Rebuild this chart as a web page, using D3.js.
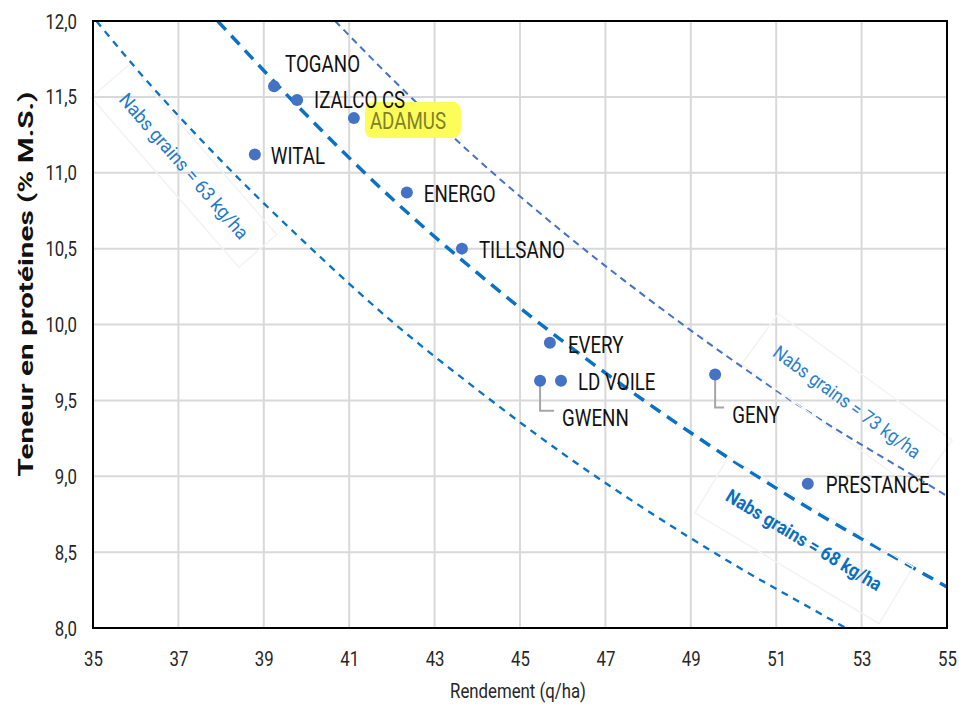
<!DOCTYPE html>
<html><head><meta charset="utf-8">
<script src="https://cdn.jsdelivr.net/npm/d3@7"></script>
<style>
body{margin:0;background:#fff;}
svg{display:block;}
text{font-family:Roboto,"Liberation Sans",sans-serif;}
</style></head>
<body>
<script>
// ---- data ----
const varieties = ["TOGANO","IZALCO CS","ADAMUS","WITAL","ENERGO","TILLSANO","EVERY","GWENN","LD VOILE","GENY","PRESTANCE"];
const rendement = [39.24,39.78,41.11,38.79,42.35,43.64,45.70,45.47,45.96,49.57,51.74];
const proteines = [11.57,11.48,11.36,11.12,10.87,10.50,9.88,9.63,9.63,9.67,8.95];

const curve63x = [35.08,36,38,40,42,44,46,48,50,52,52.63];
const curve63y = [12.0,11.69,11.08,10.53,10.02,9.57,9.15,8.77,8.42,8.10,8.0];
const curve68x = [37.92,40,42,44,46,48,50,52,54,55];
const curve68y = [12.0,11.38,10.83,10.34,9.89,9.48,9.10,8.75,8.43,8.27];
const curve73x = [40.67,42,44,46,48,50,52,54,55];
const curve73y = [12.0,11.62,11.09,10.61,10.17,9.76,9.38,9.04,8.87];

const xTicks = [35,37,39,41,43,45,47,49,51,53,55];
const yTicks = [8.0,8.5,9.0,9.5,10.0,10.5,11.0,11.5,12.0];
const curveLabels = ["Nabs grains = 63 kg/ha","Nabs grains = 68 kg/ha","Nabs grains = 73 kg/ha"];

// ---- layout (not data) ----
const W=959,H=709;
const m={l:93,r:947,t:21,b:628};
const labelOff = [[11,-23],[17,0],[16,2],[16,1],[17,1],[17,1],[18,2],[22,37],[17,1],[17,40],[18,1]];
const SX=0.78; // horizontal condensing of label text

const svg=d3.select("body").append("svg").attr("width",W).attr("height",H);
const x=d3.scaleLinear().domain([35,55]).range([m.l,m.r]);
const y=d3.scaleLinear().domain([8,12]).range([m.b,m.t]);

// grid
const g=svg.append("g");
g.selectAll(".vg").data(xTicks).join("line").attr("x1",d=>x(d)).attr("x2",d=>x(d)).attr("y1",m.t).attr("y2",m.b)
 .attr("stroke","#d9d9d9").attr("stroke-width",2);
g.selectAll(".hg").data(yTicks).join("line").attr("y1",d=>y(d)).attr("y2",d=>y(d)).attr("x1",m.l).attr("x2",m.r)
 .attr("stroke","#d9d9d9").attr("stroke-width",2);

// axes (labels only)
const xAxis=svg.append("g").attr("transform",`translate(0,${m.b})`)
 .call(d3.axisBottom(x).tickValues(xTicks).tickSize(0).tickPadding(0).tickFormat(d3.format("d")));
xAxis.select(".domain").remove();
xAxis.selectAll("text").attr("y",0).attr("dy",0)
 .attr("transform","translate(0,38) scale(0.8,1)").attr("font-size",21).attr("fill","#262626");
const yAxis=svg.append("g").attr("transform",`translate(${m.l},0)`)
 .call(d3.axisLeft(y).tickValues(yTicks).tickSize(0).tickPadding(0).tickFormat(d=>d.toFixed(1).replace(".",",")));
yAxis.select(".domain").remove();
yAxis.selectAll("text").attr("x",0).attr("dy",0)
 .attr("transform","translate(-16,7) scale(0.8,1)").attr("font-size",21).attr("fill","#262626");

// curves
const line=d3.line().x(d=>x(d[0])).y(d=>y(d[1])).curve(d3.curveMonotoneX);
const curves=[
 {xs:curve63x,ys:curve63y,color:"#0a72c4",w:2.3,dash:"7,6"},
 {xs:curve68x,ys:curve68y,color:"#0a72c4",w:3.5,dash:"12,8"},
 {xs:curve73x,ys:curve73y,color:"#4472c4",w:2,dash:"7,5"}
];
svg.append("clipPath").attr("id","pc").append("rect").attr("x",m.l).attr("y",m.t).attr("width",m.r-m.l).attr("height",m.b-m.t);
curves.forEach(c=>{
  svg.append("path").attr("clip-path","url(#pc)").datum(c.xs.map((v,i)=>[v,c.ys[i]]))
   .attr("d",line).attr("fill","none").attr("stroke",c.color).attr("stroke-width",c.w).attr("stroke-dasharray",c.dash);
});

// curve labels (rotated text boxes)
const cl=[
 {cx:184,cy:166,ang:49,bold:false,color:"#1f7ac8",bw:225,bh:50,len:186},
 {cx:804,cy:540,ang:31,bold:true,color:"#0a6fc0",bw:215,bh:66,len:178},
 {cx:847,cy:402,ang:36,bold:false,color:"#2a80cc",bw:215,bh:62,len:177}
];
cl.forEach((c,i)=>{
  const gg=svg.append("g").attr("transform",`translate(${c.cx},${c.cy}) rotate(${c.ang})`);
  gg.append("rect").attr("x",-c.bw/2).attr("y",-c.bh/2).attr("width",c.bw).attr("height",c.bh)
   .attr("fill","none").attr("stroke","#f3f3f3").attr("stroke-width",1.5);
  gg.append("text").attr("text-anchor","middle").attr("dy","0.35em").attr("x",0)
   .attr("textLength",c.len).attr("lengthAdjust","spacingAndGlyphs")
   .attr("font-size",19).attr("font-weight",c.bold?"bold":"normal").attr("fill",c.color).text(curveLabels[i]);
});

// leader lines
[7,9].forEach(i=>{
  const px=x(rendement[i]),py=y(proteines[i]);
  const o=labelOff[i];
  svg.append("polyline").attr("points",`${px},${py} ${px},${py+o[1]-7} ${px+o[0]-8},${py+o[1]-7}`)
   .attr("fill","none").attr("stroke","#a6a6a6").attr("stroke-width",2);
});

// ADAMUS highlight
const ai=2;
svg.append("rect").attr("x",x(rendement[ai])+11).attr("y",y(proteines[ai])-16).attr("width",96).attr("height",36)
 .attr("rx",8).attr("fill","#fdfd5a");

// points
svg.selectAll(".pt").data(varieties).join("circle")
 .attr("cx",(d,i)=>x(rendement[i])).attr("cy",(d,i)=>y(proteines[i])).attr("r",6).attr("fill","#4472c4");

// point labels
svg.selectAll(".pl").data(varieties).join("text")
 .attr("transform",(d,i)=>`translate(${x(rendement[i])+labelOff[i][0]},${y(proteines[i])+labelOff[i][1]+8.5}) scale(${SX},1)`)
 .attr("font-size",24).attr("fill",(d,i)=>i===ai?"#80802a":"#111")
 .text(d=>d);

// frame
svg.append("rect").attr("x",m.l).attr("y",m.t).attr("width",m.r-m.l).attr("height",m.b-m.t)
 .attr("fill","none").attr("stroke","#000").attr("stroke-width",2);

// titles
svg.append("text").attr("transform",`translate(${(m.l+m.r)/2-2},698) scale(0.8,1)`).attr("text-anchor","middle")
 .attr("font-size",21).attr("fill","#262626").text("Rendement (q/ha)");
svg.append("text").attr("transform",`translate(33,284) rotate(-90)`).attr("text-anchor","middle")
 .attr("font-family","Lato,'Open Sans',sans-serif").attr("font-weight","bold").attr("font-size",21).attr("fill","#111")
 .attr("textLength",385).attr("lengthAdjust","spacingAndGlyphs")
 .text("Teneur en protéines (% M.S.)");
</script>
</body></html>
